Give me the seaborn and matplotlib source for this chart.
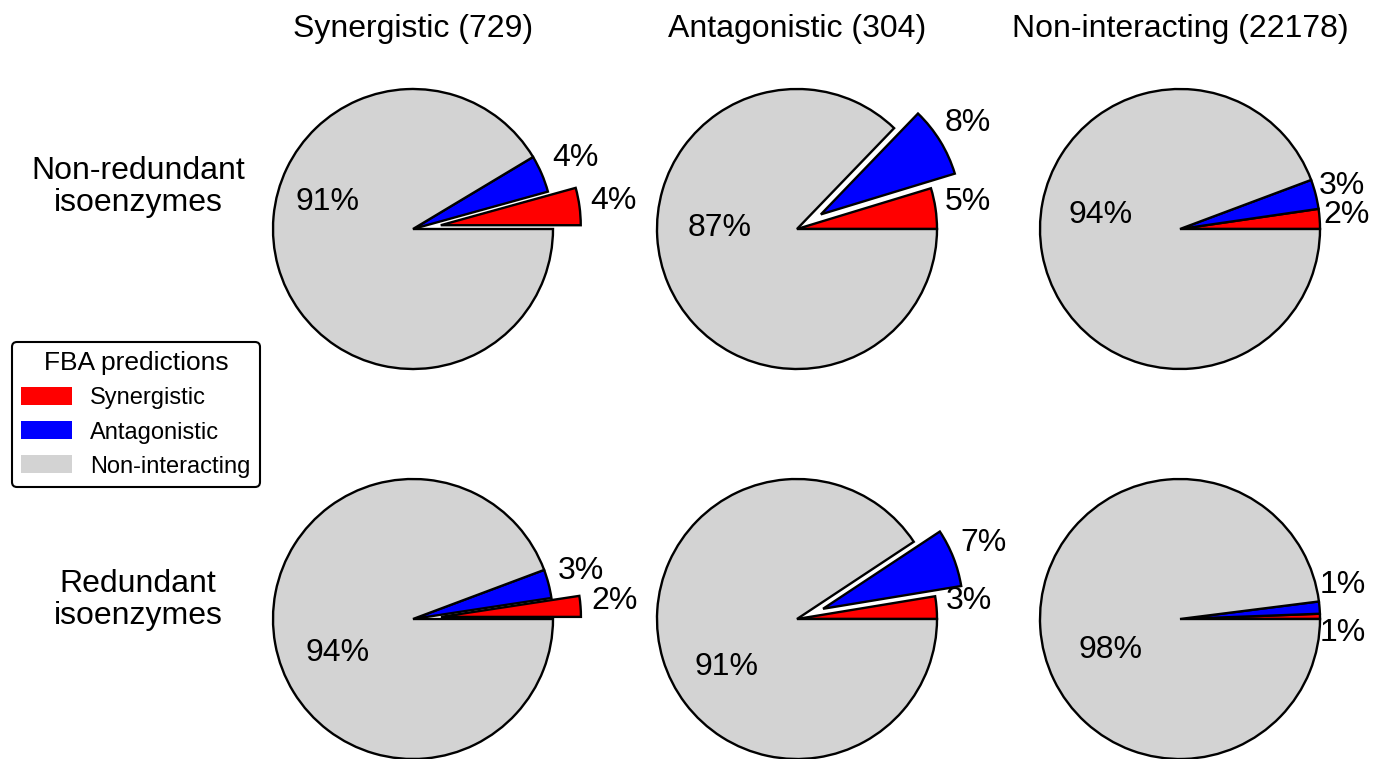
import matplotlib
matplotlib.use("Agg")
import matplotlib.pyplot as plt
from matplotlib.patches import Patch
import seaborn as sns

# -------------------------------
# Data (percent of gene pairs in each FBA class)
# -------------------------------
columns = ["Synergistic", "Antagonistic", "Non-interacting"]
column_counts = [729, 304, 22178]
rows = ["Non-redundant\nisoenzymes", "Redundant\nisoenzymes"]
fba_classes = ["Synergistic", "Antagonistic", "Non-interacting"]

# one list per row, ordered by column
synergistic_share = [[4.3, 4.7, 2.3], [2.4, 2.6, 0.6]]
antagonistic_share = [[4.3, 8.1, 3.4], [3.3, 6.7, 1.4]]
non_interacting_share = [[91.4, 87.2, 94.3], [94.3, 90.7, 98.0]]

# -------------------------------
# Style / layout
# -------------------------------
sns.set_theme(style="white")
plt.rcParams["font.family"] = ["Liberation Sans", "DejaVu Sans"]
plt.rcParams["text.color"] = "black"

class_colors = ["#ff0000", "#0000ff", "#d3d3d3"]
W, H = 1383, 759
centers_x = [413, 797, 1180]
centers_y = [229, 619]
radius_px = 140
half = 1.6

# label offsets (in pie radius units): [synergistic, antagonistic, non-interacting]
label_pos = [
    [[(1.43, 0.20), (1.16, 0.51), (-0.61, 0.19)],
     [(1.22, 0.19), (1.22, 0.76), (-0.55, 0.01)],
     [(1.19, 0.10), (1.16, 0.31), (-0.57, 0.10)]],
    [[(1.44, 0.13), (1.20, 0.34), (-0.54, -0.24)],
     [(1.23, 0.13), (1.33, 0.54), (-0.50, -0.34)],
     [(1.16, -0.10), (1.16, 0.24), (-0.50, -0.22)]],
]

fig = plt.figure(figsize=(W / 100, H / 100), dpi=100)

side = 2 * half * radius_px
for r in range(len(rows)):
    for c in range(len(columns)):
        cx, cy = centers_x[c], centers_y[r]
        ax = fig.add_axes([(cx - side / 2) / W, (H - cy - side / 2) / H, side / W, side / H])
        values = [synergistic_share[r][c], antagonistic_share[r][c], non_interacting_share[r][c]]
        # explode the wedge of the column's own interaction class
        explode = [0.2 if (cls == columns[c] and cls != "Non-interacting") else 0 for cls in fba_classes]
        ax.pie(values, colors=class_colors, explode=explode, startangle=0, counterclock=True,
               wedgeprops=dict(edgecolor="black", linewidth=1.7))
        ax.set_xlim(-half, half)
        ax.set_ylim(-half, half)
        ax.set_axis_off()
        for v, (lx, ly) in zip(values, label_pos[r][c]):
            ax.text(lx, ly, f"{v:.0f}%", ha="center", va="center", fontsize=23, color="black")

# column titles
for c, name in enumerate(columns):
    fig.text(centers_x[c] / W, 1 - 29 / H, f"{name} ({column_counts[c]})",
             ha="center", va="center", fontsize=23, color="black")

# row labels
row_label_y = [187, 600]
for r, name in enumerate(rows):
    fig.text(138 / W, 1 - row_label_y[r] / H, name, ha="center", va="center",
             fontsize=23, linespacing=1.12, color="black")

# legend
handles = [Patch(facecolor=col, edgecolor="none") for col in class_colors]
leg = fig.legend(handles, fba_classes, title="FBA predictions", loc="upper left",
                 bbox_to_anchor=(12 / W, 1 - 342 / H), fontsize=17, title_fontsize=19,
                 frameon=True, fancybox=True, framealpha=1, edgecolor="black",
                 handlelength=2.15, handleheight=0.8, handletextpad=0.75,
                 borderaxespad=0, labelspacing=0.5)
leg.get_frame().set_linewidth(1.5)
for t in leg.get_texts():
    t.set_color("black")
leg.get_title().set_color("black")

fig.savefig("out.png", dpi=100)
